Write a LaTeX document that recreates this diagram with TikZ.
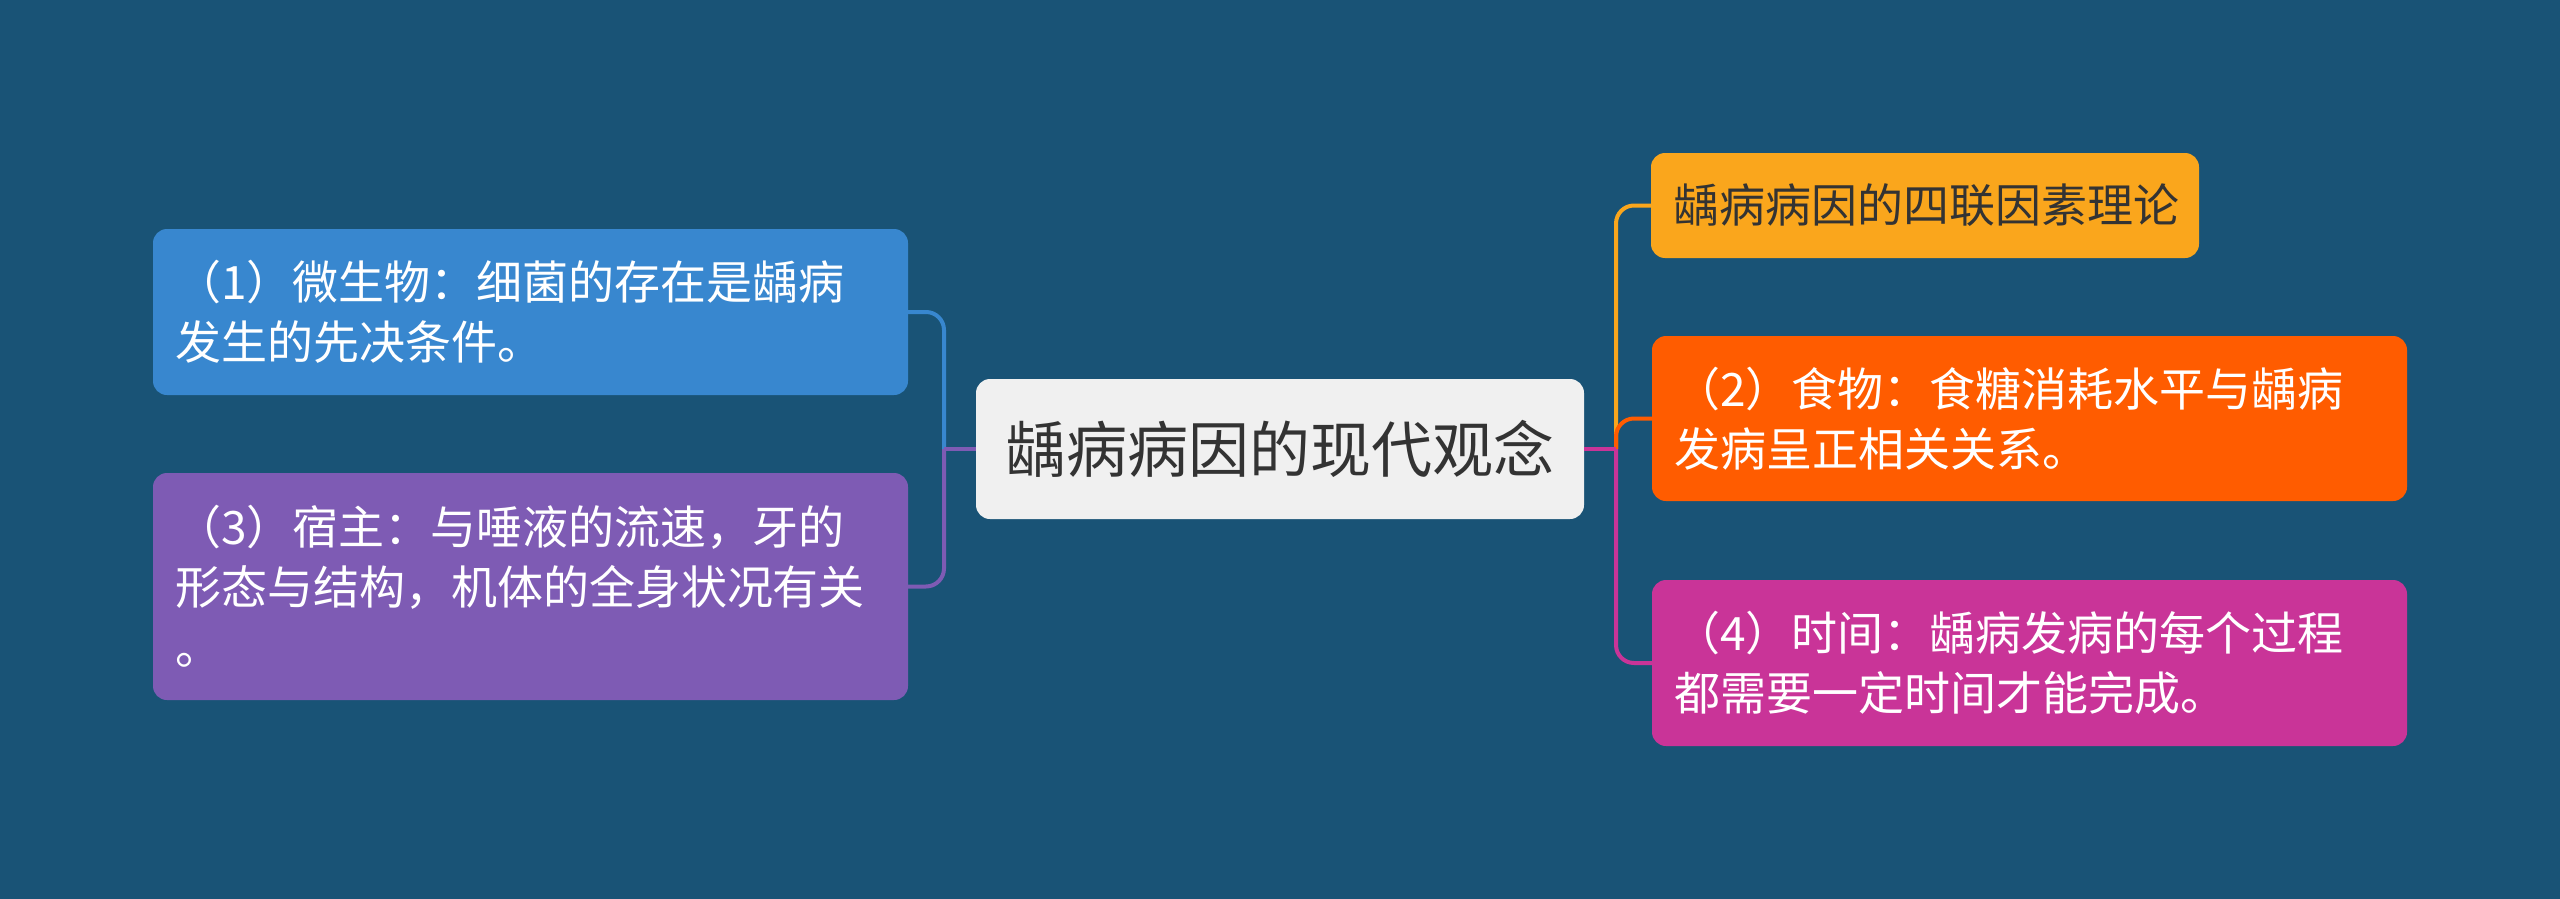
\documentclass[tikz,border=0pt]{standalone}
\usepackage{fontspec}
\newfontfamily\cjk{Noto Sans CJK SC}
\definecolor{bg}{RGB}{25,83,118}
\definecolor{cblue}{RGB}{56,135,207}
\definecolor{cpurple}{RGB}{126,91,180}
\definecolor{cyellow}{RGB}{250,166,28}
\definecolor{corange}{RGB}{255,92,0}
\definecolor{cmag}{RGB}{201,52,152}
\definecolor{croot}{RGB}{240,240,240}
\definecolor{ctext}{RGB}{51,51,51}
\begin{document}
\begin{tikzpicture}[x=1pt,y=-1pt,
  leaf/.style={rounded corners=14pt, inner xsep=22pt, inner ysep=0pt, align=left,
    font=\cjk\fontsize{46}{60}\selectfont, text=white},
  rootbox/.style={rounded corners=14pt, fill=croot, inner sep=0pt,
    font=\cjk\fontsize{61}{70}\selectfont, text=ctext},
  conn/.style={line width=4pt, rounded corners=18pt},
  stem/.style={line width=4pt}]
\fill[bg] (0,0) rectangle (2560,899);
\useasboundingbox (0,0) rectangle (2560,899);

\node[rootbox, minimum width=608pt, minimum height=140pt] (root) at (1280,449) {龋病病因的现代观念};

\node[leaf, fill=cblue, minimum width=755pt, minimum height=166pt, text width=711pt] (n1) at (530.5,312)
  {（1）微生物：细菌的存在是龋病\\发生的先决条件。};
\node[leaf, fill=cpurple, minimum width=755pt, minimum height=227pt, text width=711pt] (n3) at (530.5,586.5)
  {（3）宿主：与唾液的流速，牙的\\形态与结构，机体的全身状况有关\\。};

\node[leaf, fill=cyellow, text=ctext, minimum width=546pt, minimum height=105pt, text width=504pt] (t) at (1925,205.5)
  {龋病病因的四联因素理论};
\node[leaf, fill=corange, minimum width=755pt, minimum height=165pt, text width=711pt] (n2) at (2029.5,418.5)
  {（2）食物：食糖消耗水平与龋病\\发病呈正相关关系。};
\node[leaf, fill=cmag, minimum width=755pt, minimum height=166pt, text width=711pt] (n4) at (2029.5,663)
  {（4）时间：龋病发病的每个过程\\都需要一定时间才能完成。};

\coordinate (lt) at (944,449);
\coordinate (rt) at (1616,449);
\draw[conn, cblue] (lt) |- (n1.east);
\draw[conn, cpurple] (lt) |- (n3.east);
\draw[stem, cpurple] (root.west) -- (lt);
\draw[conn, cyellow] (rt) |- (t.west);
\draw[conn, corange] (rt) |- (n2.west);
\draw[conn, cmag] (rt) |- (n4.west);
\draw[stem, cmag] (root.east) -- (rt);
\end{tikzpicture}
\end{document}
